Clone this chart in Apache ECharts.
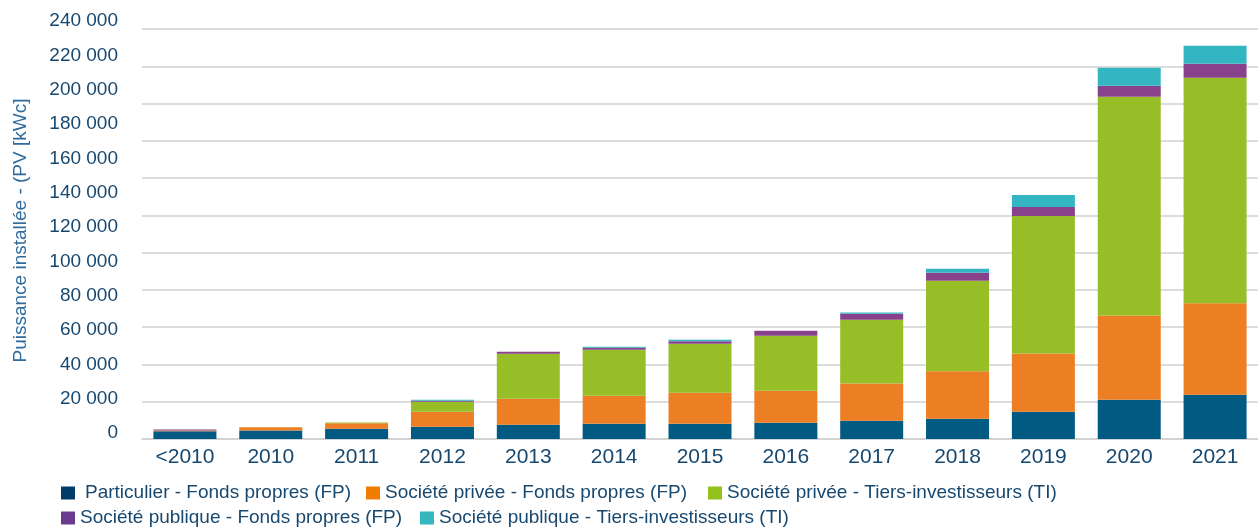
<!DOCTYPE html>
<html lang="fr">
<head>
    <meta charset="utf-8">
    <title>Puissance installée PV</title>
    <style>
        html, body { margin: 0; padding: 0; background: #fff; }
        #main_chart { width: 1258px; height: 531px; }
    </style>
</head>
<body>
<div id="main_chart"></div>

<script src="https://cdn.jsdelivr.net/npm/echarts@6/dist/echarts.min.js"></script>
<script type="text/javascript">
    // données
    //------------------------------------------
    var categories = ['<2010', '2010', '2011', '2012', '2013', '2014', '2015', '2016', '2017', '2018', '2019', '2020', '2021'];

    var particulierFP = [4100, 4500, 5500, 6600, 7700, 8200, 8200, 8700, 9800, 10900, 14600, 21100, 23800];
    var priveeFP      = [500, 1800, 3000, 8000, 13900, 15000, 16600, 17200, 20000, 25400, 31300, 45200, 49000];
    var priveeTI      = [0, 0, 400, 5400, 24100, 24700, 26300, 29500, 34200, 48600, 73800, 117300, 121000];
    var publiqueFP    = [500, 0, 0, 500, 1100, 1100, 1400, 2700, 3200, 4300, 4800, 5900, 7500];
    var publiqueTI    = [0, 0, 0, 500, 0, 500, 700, 0, 700, 2100, 6400, 9700, 9700];

    var seriesNames = [
        'Particulier - Fonds propres (FP)',
        'Société privée - Fonds propres (FP)',
        'Société privée - Tiers-investisseurs (TI)',
        'Société publique - Fonds propres (FP)',
        'Société publique - Tiers-investisseurs (TI)'
    ];

    // graduations : lignes de la grille et étiquettes de l'axe
    var gridMax = 220000;
    var labelMax = 240000;
    var tickStep = 20000;

    var barColors    = ['#005a82', '#ec7f24', '#97bd27', '#88428c', '#33b6c1'];
    var legendColors = ['#003c6a', '#f07d00', '#95c11f', '#6a3a8f', '#35b7c0'];

    var textColor = '#174870';
    var fontName = "'Liberation Sans', Arial, sans-serif";

    // ECharts
    //------------------------------------------
    var chart = echarts.init(document.getElementById('main_chart'));

    function frNumber(v) {
        return String(v).replace(/\B(?=(\d{3})+(?!\d))/g, ' ');
    }

    // une légende par élément, placées comme sur l'original
    var legendPos = [
        {left: 61,  top: 483, pad: 5},
        {left: 366, top: 483, pad: 0},
        {left: 708, top: 483, pad: 0},
        {left: 61,  top: 508, pad: 0},
        {left: 420, top: 508, pad: 0}
    ];
    var legends = legendPos.map(function (p, i) {
        return {
            left: p.left,
            top: p.top,
            padding: 0,
            icon: 'rect',
            itemWidth: 14,
            itemHeight: 13,
            selectedMode: false,
            textStyle: {
                color: textColor,
                fontSize: 19,
                fontFamily: fontName,
                lineHeight: 20,
                padding: [0, 0, 0, p.pad]
            },
            data: [{name: seriesNames[i], itemStyle: {color: legendColors[i]}}]
        };
    });

    var stacks = [particulierFP, priveeFP, priveeTI, publiqueFP, publiqueTI];
    var series = stacks.map(function (vals, i) {
        return {
            name: seriesNames[i],
            type: 'bar',
            stack: 'total',
            barWidth: 63,
            xAxisIndex: 0,
            yAxisIndex: 0,
            itemStyle: {color: barColors[i]},
            data: vals
        };
    });

    var option = {
        backgroundColor: '#fff',
        animation: false,
        legend: legends,
        grid: [
            // grille des barres
            {left: 142, top: 29, width: 1129, height: 410},
            // grille des étiquettes de l'axe vertical
            {left: 142, top: 21, width: 1129, height: 412}
        ],
        xAxis: [
            {
                gridIndex: 0,
                type: 'category',
                data: categories,
                axisTick: {show: false},
                axisLine: {lineStyle: {color: '#d0d0d0', width: 1.5}},
                axisLabel: {
                    color: textColor,
                    fontSize: 21,
                    fontFamily: fontName,
                    margin: 8
                }
            },
            {gridIndex: 1, type: 'value', show: false}
        ],
        yAxis: [
            {
                gridIndex: 0,
                type: 'value',
                min: 0,
                max: gridMax,
                interval: tickStep,
                axisLabel: {show: false},
                axisLine: {show: false},
                axisTick: {show: false},
                splitLine: {lineStyle: {color: '#d0d0d0', width: 1.5}}
            },
            {
                gridIndex: 1,
                type: 'value',
                min: 0,
                max: labelMax,
                interval: tickStep,
                name: 'Puissance installée - (PV [kWc]',
                nameLocation: 'middle',
                nameGap: 112,
                nameTextStyle: {
                    color: '#2e6a9e',
                    fontSize: 19,
                    fontFamily: fontName,
                    padding: [0, 7, 0, 0]
                },
                axisLine: {show: false},
                axisTick: {show: false},
                splitLine: {show: false},
                axisLabel: {
                    color: textColor,
                    fontSize: 19,
                    fontFamily: fontName,
                    margin: 24,
                    formatter: frNumber
                }
            }
        ],
        series: series
    };
    chart.setOption(option);
</script>
</body>
</html>
